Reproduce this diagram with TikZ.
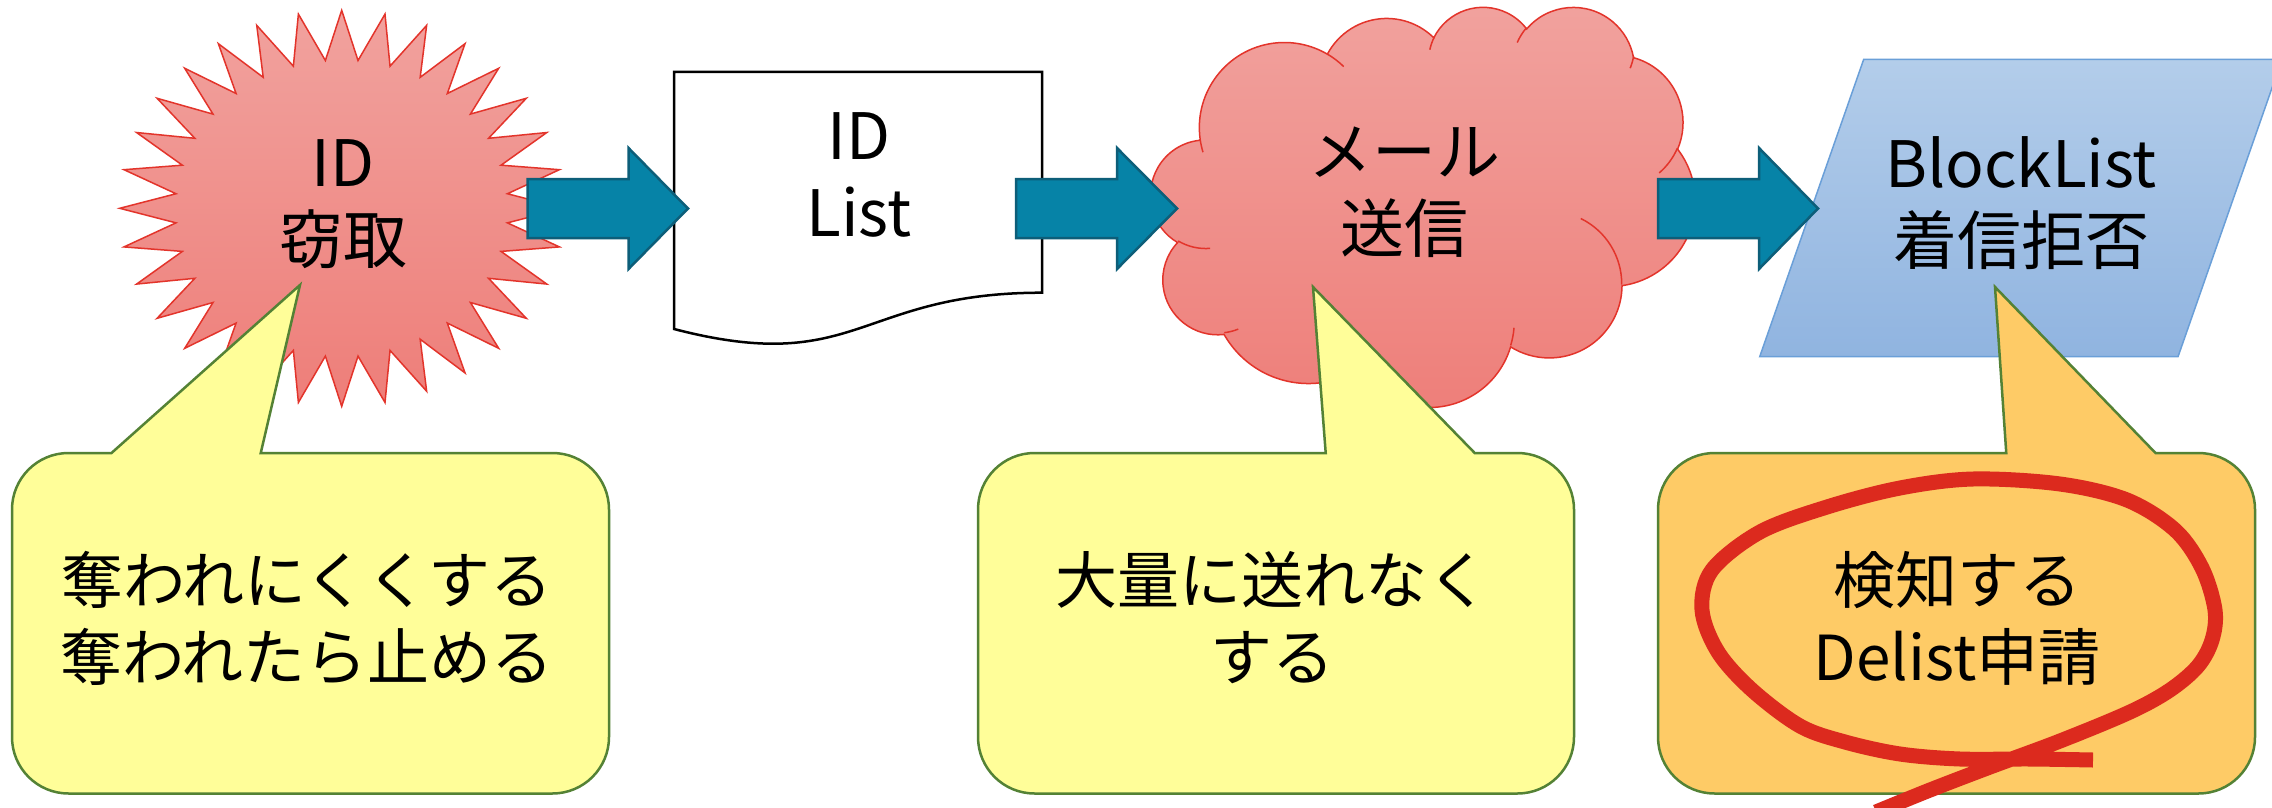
\documentclass[tikz,border=0pt]{standalone}
\usepackage{fontspec}
\setmainfont{Noto Sans CJK JP}
\definecolor{starTop}{HTML}{F1A29E}
\definecolor{starBot}{HTML}{EE7E79}
\definecolor{starLine}{HTML}{E3342B}
\definecolor{blueTop}{HTML}{B3CDEA}
\definecolor{blueBot}{HTML}{90B4E0}
\definecolor{blueLine}{HTML}{6A9FD8}
\definecolor{arrFill}{HTML}{0683A7}
\definecolor{arrLine}{HTML}{0D5E79}
\definecolor{yelFill}{HTML}{FFFE99}
\definecolor{oraFill}{HTML}{FECB66}
\definecolor{calLine}{HTML}{548235}
\definecolor{loopRed}{HTML}{DC2A1E}
\tikzset{
  burst/.style={draw=starLine, line width=1.5pt, top color=starTop, bottom color=starBot},
  cloudfill/.style={draw=starLine, line width=1.5pt, top color=starTop, bottom color=starBot},
  cloudcrease/.style={draw=starLine, line width=1.5pt},
  docshape/.style={draw=black, line width=2.5pt, fill=white, line join=miter},
  para/.style={draw=blueLine, line width=1.5pt, top color=blueTop, bottom color=blueBot},
  blockarrow/.style={draw=arrLine, line width=2.5pt, fill=arrFill, line join=miter},
  yelcallout/.style={draw=calLine, line width=2.5pt, fill=yelFill, line join=miter},
  oracallout/.style={draw=calLine, line width=2.5pt, fill=oraFill, line join=miter},
  loopline/.style={draw=loopRed, line width=15pt},
  toptext/.style={font=\fontsize{64}{77}\selectfont, align=center, text=black, inner sep=0pt},
  calltext/.style={font=\fontsize{62}{77}\selectfont, align=center, text=black, inner sep=0pt}
}
\newcommand\drawblockarrow[3]{%
  \path[blockarrow] (#1,179) -- (#2,179) -- (#2,148) -- (#3,208.5) -- (#2,269) -- (#2,238) -- (#1,238) -- cycle;}
\newcommand\drawcallout[8]{%
  \path[#1] (#7,#3) -- ({#4-56.5},#3) arc[start angle=-90,end angle=0,radius=56.5]
   -- (#4,{#5-56.5}) arc[start angle=0,end angle=90,radius=56.5]
   -- ({#2+56.5},#5) arc[start angle=90,end angle=180,radius=56.5]
   -- (#2,{#3+56.5}) arc[start angle=180,end angle=270,radius=56.5]
   -- (#6,#3) -- #8 -- cycle;}
\begin{document}
\begin{tikzpicture}[x=1pt,y=-1pt]
\useasboundingbox (0,0) rectangle (2272,808);
\begin{scope}
\clip (0,0) rectangle (2272,808);
\fill[white] (0,0) rectangle (2272,808);
% starburst
\begin{scope}[shift={(341.7,208.3)}]
\path[burst] (222,0)
  \foreach \i [evaluate=\i as \rx using {222-55.5*mod(\i,2)}, evaluate=\i as \ry using {198-49.5*mod(\i,2)}] in {1,...,63} { -- ({\rx*cos(\i*5.625)},{\ry*sin(\i*5.625)}) } -- cycle;
\end{scope}
% document
\path[docshape] (674,72) -- (1042,72) -- (1042,292.7) .. controls (858,292.7) and (858,376.8) .. (674,329) -- cycle;
% cloud
\begin{scope}[shift={(1151,6)}, x=0.125926pt, y=-0.092593pt]
\path[cloudfill] (390,1437)
  arc[x radius=675.3, y radius=919.0, start angle=-187.745, end angle=-59.63]
  arc[x radius=533.3, y radius=726.7, start angle=-152.02, end angle=-45.44]
  arc[x radius=436.5, y radius=594.5, start angle=-153.48, end angle=-37.33]
  arc[x radius=485.7, y radius=659.5, start angle=-139.70, end angle=-10.21]
  arc[x radius=533.3, y radius=727.3, start angle=-74.77, end angle=23.21]
  arc[x radius=677.5, y radius=922.0, start angle=-37.52, end angle=81.86]
  arc[x radius=578.5, y radius=786.7, start angle=0.46, end angle=121.98]
  arc[x radius=675.2, y radius=921.5, start angle=16.84, end angle=146.24]
  arc[x radius=772.0, y radius=1054.3, start angle=58.98, end angle=150.20]
  arc[x radius=436.0, y radius=591.8, start angle=83.31, end angle=223.12]
  arc[x radius=434.5, y radius=594.5, start angle=120.36, end angle=264.11]
  -- cycle;
\path[cloudcrease]
  (469.3,2617.7) arc[x radius=434.5, y radius=594.5, start angle=85.546, end angle=120.36]
  (692.8,3489.9) arc[x radius=436.0, y radius=591.8, start angle=68.23, end angle=83.30]
  (1647.8,3909.0) arc[x radius=675.2, y radius=921.5, start angle=146.24, end angle=158.47]
  (2882.7,3475.1) arc[x radius=675.2, y radius=921.5, start angle=4.738, end angle=16.84]
  (3412.9,2295.4) arc[x radius=578.5, y radius=786.7, start angle=-64.02, end angle=0.46]
  (4179.8,1535.4) arc[x radius=533.3, y radius=727.3, start angle=23.21, end angle=49.63]
  (3832.4,542.6) arc[x radius=485.7, y radius=659.5, start angle=10.21, end angle=21.88]
  (2907.8,395.2) arc[x radius=485.7, y radius=659.5, start angle=-156.28, end angle=-139.70]
  (2214.1,472.0) arc[x radius=436.5, y radius=594.5, start angle=-167.73, end angle=-153.48]
  (1400.0,519.2) arc[x radius=675.3, y radius=919.0, start angle=-59.63, end angle=-45.72]
  (412.7,1578.9) arc[x radius=675.3, y radius=919.0, start angle=163.19, end angle=172.255];
\end{scope}
% parallelogram
\path[para] (1863.7,59.3) -- (2282,59.3) -- (2178,356.7) -- (1759.7,356.7) -- cycle;
% block arrows
\drawblockarrow{527.5}{628.5}{688}
\drawblockarrow{1016}{1117}{1177}
\drawblockarrow{1658}{1759}{1818}
% callouts
\drawcallout{yelcallout}{12}{453}{609}{793.5}{111.5}{260.75}{(300,285)}
\drawcallout{yelcallout}{978}{453}{1574}{793.5}{1325.7}{1474.7}{(1313,287)}
\drawcallout{oracallout}{1658}{453}{2255}{793.5}{2006.25}{2155.5}{(1995,287)}
% texts
\node[toptext] (star) at (343,204) {ID\\窃取};
\node[toptext] (doc) at (859,175) {ID\\List};
\node[toptext] (cloud) at (1404,192) {メール\\送信};
\node[toptext] (block) at (2021,203) {BlockList\\着信拒否};
\node[calltext] (c1) at (307,618) {奪われにくくする\\奪われたら止める};
\node[calltext] (c2) at (1272,618) {大量に送れなく\\する};
\node[calltext] (c3) at (1957,618) {検知する\\Delist申請};
% red loop
\draw[loopline] plot[smooth, tension=0.55] coordinates {
  (2093,760) (2030,759) (1960,759) (1900,754) (1845,742) (1800,726) (1752,690)
  (1718,652) (1702,610) (1712,570) (1760,532) (1827,507) (1900,488) (1973,479)
  (2060,484) (2127,500) (2175,530) (2202,568) (2215,610) (2212,640) (2198,666)
  (2170,690) (2130,712) (2060,741) (1990,767) (1930,790) (1876,812)};
\end{scope}
\end{tikzpicture}
\end{document}
